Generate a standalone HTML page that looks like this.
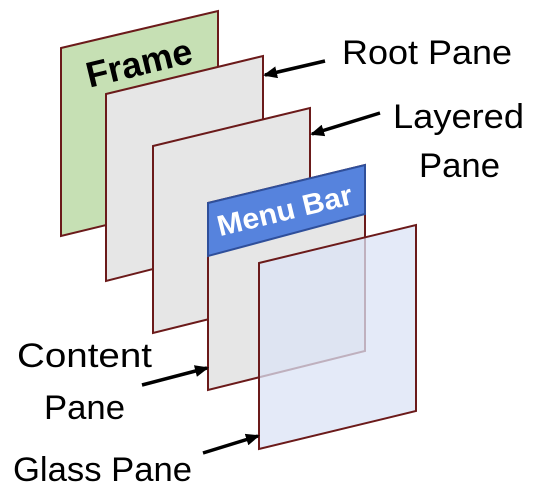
<!DOCTYPE html>
<html><head><meta charset="utf-8"><style>
html,body{margin:0;padding:0;background:#fff;}
svg{display:block;}
text{font-family:"Liberation Sans",sans-serif;}
</style></head><body>
<svg width="539" height="500" viewBox="0 0 539 500">
<defs><marker id="a" markerWidth="14" markerHeight="12" refX="12" refY="6" orient="auto" markerUnits="userSpaceOnUse"><path d="M0,0 L14,6 L0,12 z" fill="#000"/></marker></defs>
<g stroke="#6b1a1a" stroke-width="2">
<polygon points="61,48 218,11 218,198 61,236" fill="#c6e0b4"/>
<polygon points="106,94 263,56 263,241 106,281" fill="#e6e6e6"/>
<polygon points="153,146 310,108 310,294 153,333" fill="#e6e6e6"/>
<polygon points="208,203 365,165 365,351 208,390" fill="#e6e6e6"/>
<polygon points="259,263 416,225 416,411 259,449" fill="#dbe3f5" fill-opacity="0.75"/>
</g>
<polygon points="208,203 365,165 365,214 208,256" fill="#5683dd" stroke="#2f4f9a" stroke-width="2"/>
<text x="0" y="0" font-weight="bold" font-size="36" text-anchor="middle" transform="translate(142,75) rotate(-13.6)" textLength="108" lengthAdjust="spacingAndGlyphs">Frame</text>
<text x="0" y="0" font-weight="bold" font-size="29" fill="#fff" text-anchor="middle" transform="translate(287,220) rotate(-13.6)" textLength="138" lengthAdjust="spacingAndGlyphs">Menu Bar</text>
<g stroke="#000" stroke-width="3.5" marker-end="url(#a)">
<line x1="325" y1="61" x2="265" y2="75"/>
<line x1="380" y1="113" x2="312" y2="134"/>
<line x1="142" y1="385" x2="207" y2="368"/>
<line x1="203" y1="453" x2="258" y2="436"/>
</g>
<g font-size="34" fill="#000">
<text x="342" y="64" textLength="170" lengthAdjust="spacingAndGlyphs">Root Pane</text>
<text x="393" y="128" textLength="131" lengthAdjust="spacingAndGlyphs">Layered</text>
<text x="419" y="177" textLength="81" lengthAdjust="spacingAndGlyphs">Pane</text>
<text x="17" y="367" textLength="135" lengthAdjust="spacingAndGlyphs">Content</text>
<text x="44" y="419" textLength="81" lengthAdjust="spacingAndGlyphs">Pane</text>
<text x="13" y="481" textLength="179" lengthAdjust="spacingAndGlyphs">Glass Pane</text>
</g>
</svg>
</body></html>
